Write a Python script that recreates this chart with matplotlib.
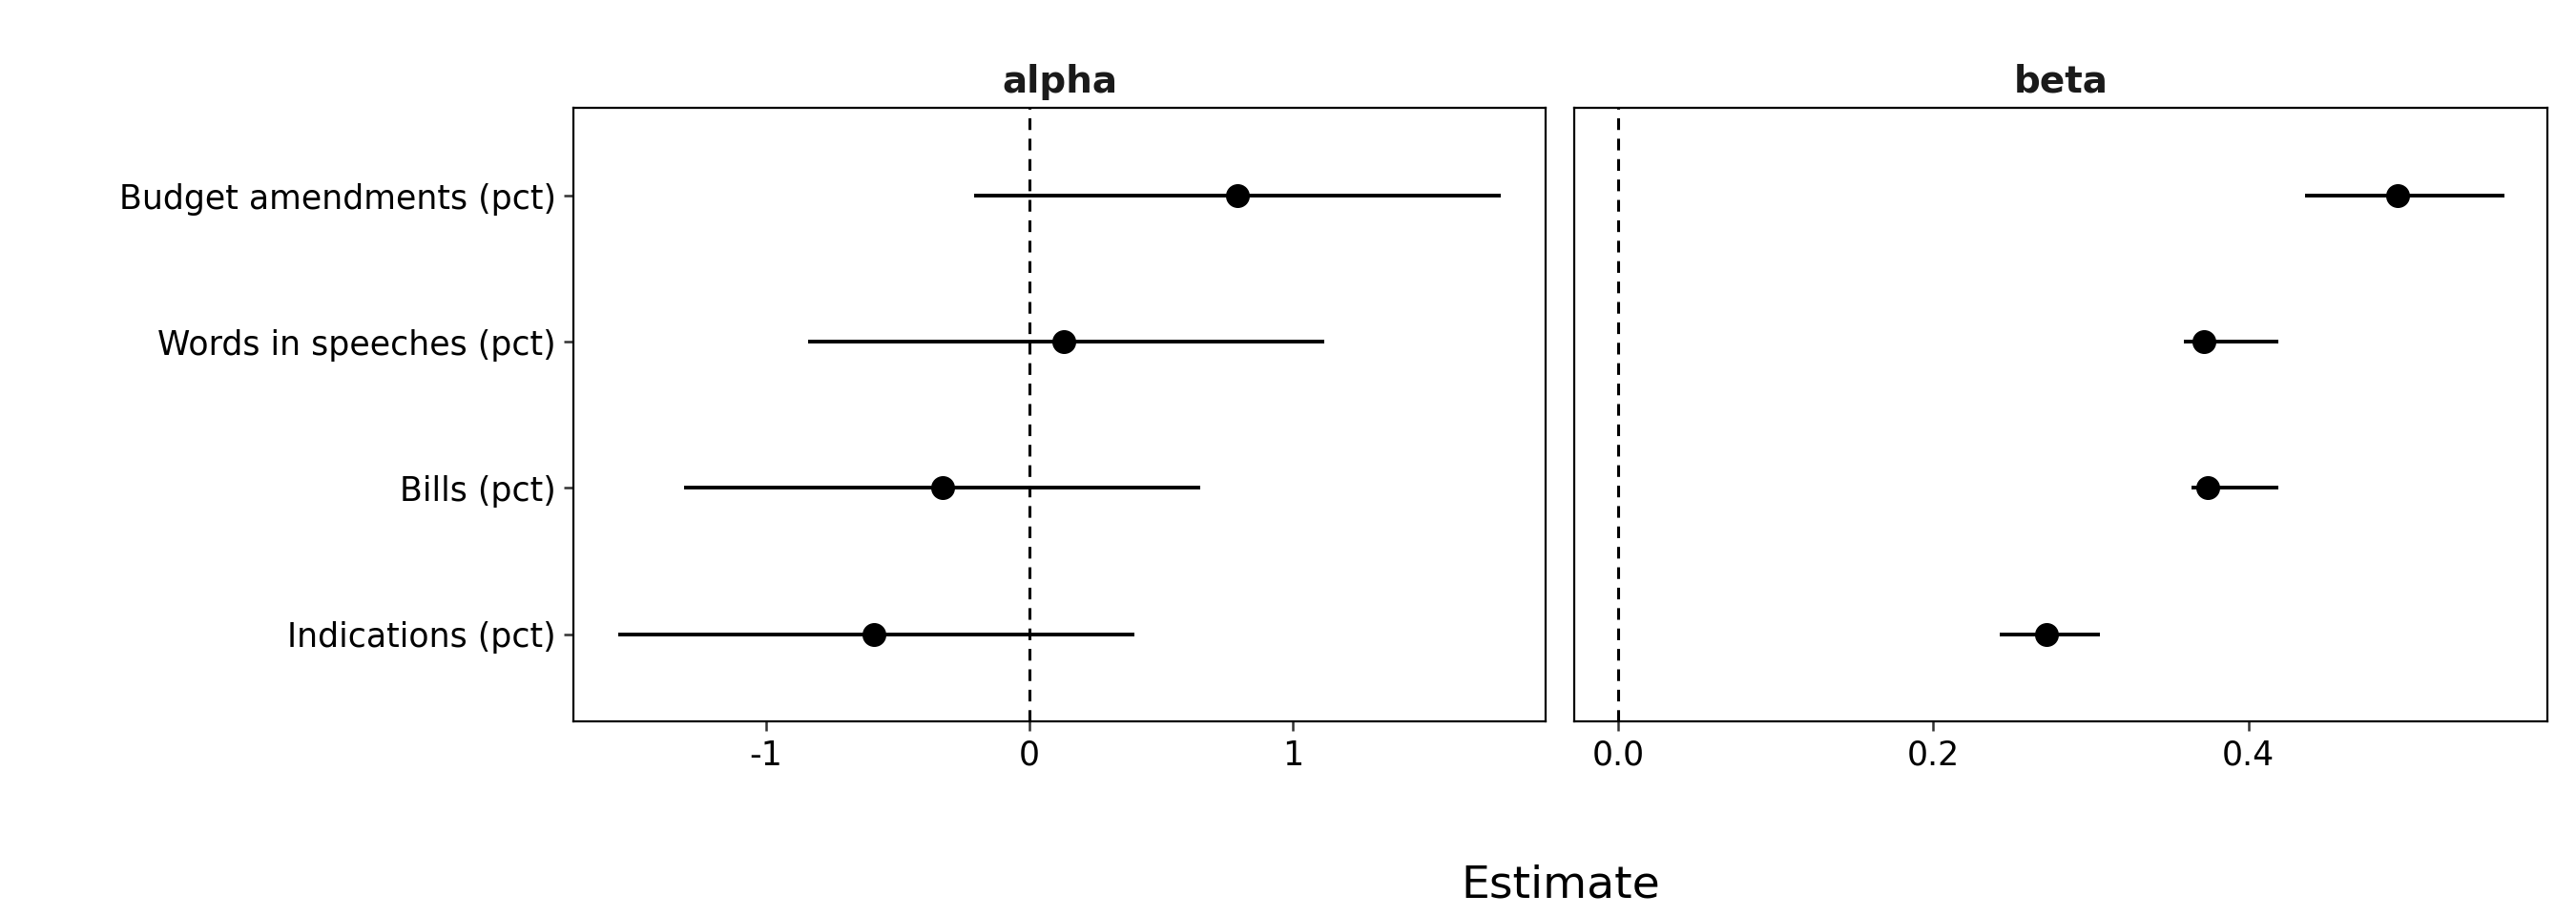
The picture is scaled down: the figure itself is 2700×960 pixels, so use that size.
import matplotlib
matplotlib.use("Agg")
from matplotlib import pyplot as plt

### DATA
labels = ["Indications (pct)", "Bills (pct)", "Words in speeches (pct)", "Budget amendments (pct)"]

alpha_est = [-0.59, -0.33, 0.13, 0.79]
alpha_lo = [-1.56, -1.31, -0.84, -0.21]
alpha_hi = [0.40, 0.65, 1.12, 1.79]

beta_est = [0.272, 0.374, 0.372, 0.495]
beta_lo = [0.242, 0.364, 0.359, 0.436]
beta_hi = [0.306, 0.419, 0.419, 0.5625]

### PLOT
fig = plt.figure(figsize=(27, 9.6), dpi=100)
ax1 = fig.add_axes([0.2226, 0.212, 0.3775, 0.670])
ax2 = fig.add_axes([0.611, 0.212, 0.378, 0.670])

ypos = [1, 2, 3, 4]
panels = [(ax1, "alpha", alpha_est, alpha_lo, alpha_hi, (-1.73, 1.96), [-1, 0, 1], ["-1", "0", "1"]),
          (ax2, "beta", beta_est, beta_lo, beta_hi, (-0.028, 0.590), [0.0, 0.2, 0.4], ["0.0", "0.2", "0.4"])]

for ax, title, est, lo, hi, xlim, ticks, ticklabels in panels:
    ax.axvline(0, color="black", linestyle=(0, (4, 3)), linewidth=2.2)
    ax.hlines(ypos, lo, hi, color="black", linewidth=2.8)
    ax.plot(est, ypos, "o", color="black", markersize=17)
    ax.set_xlim(*xlim)
    ax.set_ylim(0.4, 4.6)
    ax.set_xticks(ticks)
    ax.set_xticklabels(ticklabels)
    ax.set_title(title, fontsize=28, fontweight="bold", color="#1a1a1a", pad=12)
    ax.tick_params(axis="both", labelsize=25, length=7, width=1.8, colors="#333333", labelcolor="black", pad=6)
    for s in ax.spines.values():
        s.set_linewidth(1.6)

ax1.set_yticks(ypos)
ax1.set_yticklabels(labels)
ax2.set_yticks([])

fig.text(0.606, 0.02, "Estimate", ha="center", fontsize=34)

fig.savefig("out.png", dpi=100)
